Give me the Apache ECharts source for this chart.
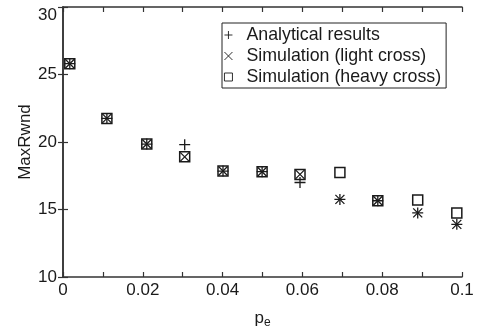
<!DOCTYPE html>
<html>
<head>
<meta charset="utf-8">
<script src="https://cdn.jsdelivr.net/npm/echarts@6/dist/echarts.min.js"></script>
<style>
  html, body { margin: 0; padding: 0; background: #fff; }
  #chart { width: 483px; height: 330px; }
</style>
</head>
<body>
<div id="chart"></div>
<script>
// values
var pe = [0.0017, 0.011, 0.021, 0.0305, 0.0401, 0.0499, 0.0594, 0.0694, 0.0789, 0.0889, 0.0987];
var analytical = [25.8, 21.75, 19.85, 19.8, 17.85, 17.8, 17.0, 15.75, 15.65, 14.75, 13.9];
var lightCross = [25.8, 21.75, 19.85, 18.9, 17.85, 17.8, 17.6, 15.75, 15.65, 14.75, 13.9];
var heavyCross = [25.8, 21.75, 19.85, 18.9, 17.85, 17.8, 17.6, 17.75, 15.65, 15.7, 14.75];
var seriesNames = ['Analytical results', 'Simulation (light cross)', 'Simulation (heavy cross)'];

var FONT = 'Liberation Sans';
var INK = '#1a1a1a';

function pairs(ys) {
	return pe.map(function (x, i) { return [x, ys[i]]; });
}

var plusPath = 'path://M5,0L5,10M0,5L10,5';
var crossPath = 'path://M0,0L10,10M0,10L10,0';

var frameLine = { show: true, lineStyle: { color: '#333', width: 1.5 } };
var inTick = { show: true, inside: true, length: 5, lineStyle: { color: '#333', width: 1.2 } };

function xLabel(v) {
	var k = Math.round(v * 100);
	if (k % 2 !== 0) return '';
	if (k === 0) return '0';
	if (k === 10) return '0.1';
	return v.toFixed(2);
}

var chart = echarts.init(document.getElementById('chart'), null, { renderer: 'canvas' });

var option = {
	animation: false,
	backgroundColor: '#fff',
	textStyle: { fontFamily: FONT, color: INK },
	grid: { left: 63, right: 21, top: 7, bottom: 53, containLabel: false, outerBoundsMode: 'none' },
	legend: {
		left: 222,
		top: 23,
		orient: 'vertical',
		backgroundColor: '#fff',
		borderColor: '#222',
		borderWidth: 1,
		borderRadius: 0,
		padding: [3, 5, 2, 2],
		itemGap: 3,
		itemWidth: 8,
		itemHeight: 8,
		itemStyle: { borderWidth: 0.9 },
		textStyle: { fontFamily: FONT, fontSize: 17.8, color: INK, padding: [0, 0, 0, 9] },
		data: seriesNames
	},
	xAxis: [{
		type: 'value',
		min: 0,
		max: 0.1,
		interval: 0.01,
		name: '{p|p}{e|e}',
		nameLocation: 'middle',
		nameGap: 30,
		nameMoveOverlap: false,
		nameTextStyle: {
			rich: {
				p: { fontFamily: FONT, fontSize: 17, color: INK },
				e: { fontFamily: FONT, fontSize: 12, color: INK, padding: [10, 0, 0, 0] }
			}
		},
		axisLine: frameLine,
		axisTick: inTick,
		splitLine: { show: false },
		axisLabel: { fontFamily: FONT, fontSize: 17, color: INK, margin: 5, formatter: xLabel }
	}, {
		type: 'value',
		position: 'top',
		min: 0,
		max: 0.1,
		interval: 0.01,
		axisLine: frameLine,
		axisTick: inTick,
		splitLine: { show: false },
		axisLabel: { show: false }
	}],
	yAxis: [{
		type: 'value',
		min: 10,
		max: 30,
		interval: 5,
		name: 'MaxRwnd',
		nameLocation: 'middle',
		nameGap: 29,
		nameMoveOverlap: false,
		nameTextStyle: { fontFamily: FONT, fontSize: 17, color: INK },
		axisLine: frameLine,
		axisTick: inTick,
		splitLine: { show: false },
		axisLabel: { fontFamily: FONT, fontSize: 17, color: INK, margin: 6, verticalAlignMaxLabel: 'top' }
	}, {
		type: 'value',
		position: 'right',
		min: 10,
		max: 30,
		interval: 5,
		axisLine: frameLine,
		axisTick: inTick,
		splitLine: { show: false },
		axisLabel: { show: false }
	}],
	series: [{
		name: seriesNames[0],
		type: 'scatter',
		symbol: plusPath,
		symbolSize: 11,
		itemStyle: { color: 'rgba(0,0,0,0)', borderColor: INK, borderWidth: 1.3, opacity: 1 },
		data: pairs(analytical)
	}, {
		name: seriesNames[1],
		type: 'scatter',
		symbol: crossPath,
		symbolSize: 9,
		itemStyle: { color: 'rgba(0,0,0,0)', borderColor: INK, borderWidth: 1.3, opacity: 1 },
		data: pairs(lightCross)
	}, {
		name: seriesNames[2],
		type: 'scatter',
		symbol: 'rect',
		symbolSize: 10,
		itemStyle: { color: 'rgba(0,0,0,0)', borderColor: INK, borderWidth: 1.5, opacity: 1 },
		data: pairs(heavyCross)
	}]
};

chart.setOption(option);
</script>
</body>
</html>
